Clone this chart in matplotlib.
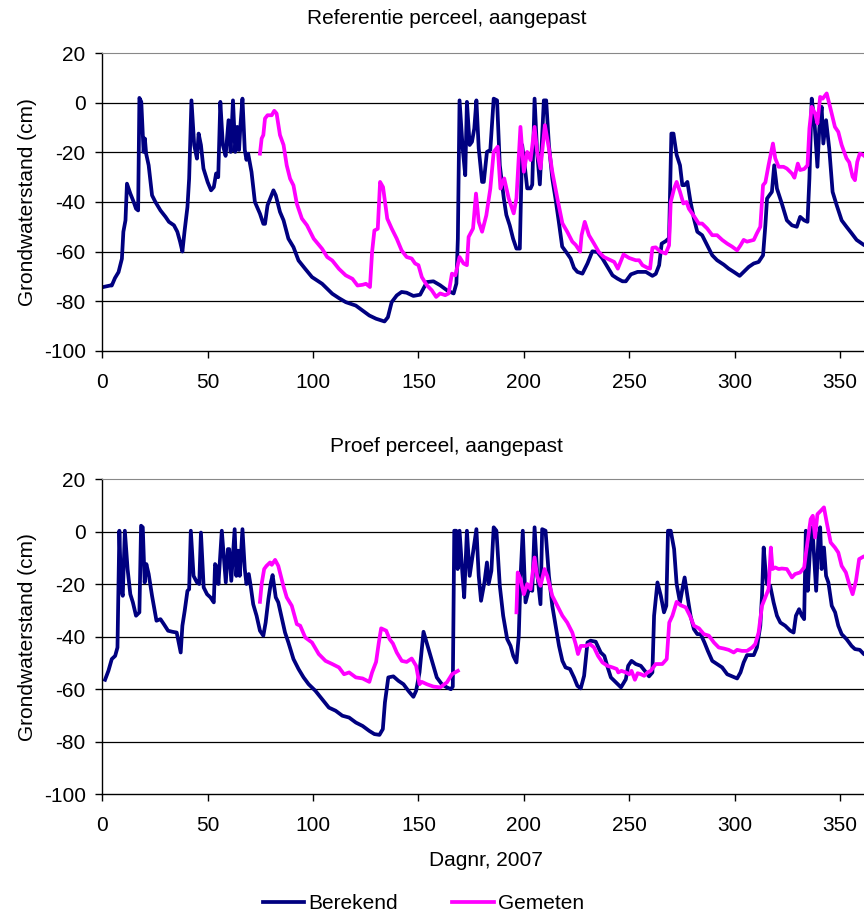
import numpy as np
import matplotlib
matplotlib.use("Agg")
import matplotlib.pyplot as plt

plt.rcParams["font.family"] = ["Liberation Sans", "DejaVu Sans"]
plt.rcParams["axes.unicode_minus"] = False  # gewoon "-" zoals in het origineel

# (dagnr, grondwaterstand in cm)
ref_berekend = [
    (0.5, -74.3), (3.7, -73.7), (4.5, -73.7), (6, -70.7), (7.7, -68.3), (9.3, -62.9), (10, -52), (11, -47.4),
    (11.7, -32.6), (13.3, -36.6), (14.9, -40), (16, -42.7), (17, -43.4), (17.6, 2), (18.5, 0.4), (19.6, -19.8),
    (20.2, -14.4), (20.8, -20.5), (22, -25.2), (23.6, -37.3), (25.2, -40), (27.6, -43.4), (30, -46), (31.6, -48),
    (34, -49.4), (35.6, -52), (36.9, -56), (38, -60), (39, -52), (40.4, -42), (41.2, -30.6), (42.3, 1),
    (43.6, -17), (44.9, -22.5), (45.7, -12.4), (46.8, -17), (48, -26.5), (50, -32), (51.6, -35.3), (52.9, -34),
    (54, -28.5), (55, -30), (56, 0.4), (57.2, -17), (58.5, -21.4), (59.9, -7), (60.9, -19.8), (62, 1),
    (63.1, -19.8), (64, -9.7), (64.9, -19), (65.5, -9.7), (66.5, 1.7), (67.6, -19), (68.4, -23), (69.2, -20.5),
    (70.8, -27.9), (72.4, -40), (74.8, -44.7), (76.4, -48.8), (77.2, -48.8), (78.4, -41.3), (81.2, -35.3),
    (82.3, -37.3), (84.3, -44), (86, -47.4), (88.3, -54.8), (90.7, -58.2), (93.1, -63.6), (96.3, -67),
    (99.5, -70.3), (104.3, -73), (109.1, -77), (112.3, -78.8), (115.5, -80.4), (120.3, -81.8), (123.5, -83.8),
    (126.7, -85.8), (129.9, -87.1), (133.9, -88.2), (135.5, -86.5), (137.3, -80.4), (139.7, -77.7), (142, -76.3),
    (144.4, -76.6), (147.6, -77.9), (150.8, -77.4), (154, -72.3), (157.1, -72), (160.3, -73.6), (163.5, -75.6),
    (166.7, -76.9), (168, -72.9), (168.7, -54.8), (169.5, 1), (171, -18.4), (172.2, -29.2), (173, 0.4),
    (174.3, -17), (175.4, -15.7), (176.5, -10.3), (177.5, 1), (178.6, -18.4), (180.2, -31.9), (181, -31.9),
    (182.5, -19.8), (184.1, -19), (185.7, 1.7), (187.3, 1), (188.6, -25.2), (190.5, -38.5), (191.7, -45.2),
    (193.3, -49.4), (194.9, -54.8), (196.5, -58.8), (198.1, -58.8), (199.2, -17), (200.4, -25.2), (201.6, -34.5),
    (203.2, -34.5), (204, -33), (205.1, 1.7), (206.3, -19.8), (207.6, -32.9), (209.5, 1), (210.6, 1),
    (211.9, -17), (213.5, -30.5), (215, -38.5), (216.6, -48), (218.2, -58), (220.6, -60.8), (222.2, -62.8),
    (223.8, -66.6), (225.4, -68.2), (227.8, -68.9), (230.2, -64.8), (232.5, -59.9), (234.9, -60.2),
    (237.3, -62.8), (239.7, -66.2), (242.1, -69.6), (244.4, -70.9), (246.8, -72), (248.4, -72), (250.8, -69.2),
    (254, -68.2), (257.9, -68.2), (261, -69.8), (262.6, -69), (264.2, -65.5), (265.4, -56.8), (267.3, -55.8),
    (268.9, -54.6), (270, -12.4), (271, -12.4), (272.5, -21), (274.1, -25.2), (275.2, -33.2), (276.3, -33.2),
    (277.6, -31.9), (279.1, -40), (280.7, -46.7), (282.3, -52), (284.6, -53.4), (287, -57.5), (289.4, -61.5),
    (291.7, -63.5), (294.9, -65.3), (297.2, -66.9), (299.6, -68.2), (302.4, -69.8), (304.3, -68.2),
    (306.7, -66.2), (309.1, -64.8), (311.4, -64.2), (313.5, -61.5), (314.6, -49.4), (315.4, -38.6),
    (317.7, -35.9), (318.8, -25.2), (320.1, -34.6), (322.4, -40.6), (324.8, -47.4), (327.2, -49.4),
    (329.5, -50), (331.1, -46), (333, -47.4), (334.6, -48), (335.5, -30.5), (336.6, 1.7), (337.9, -7.7),
    (339.3, -25.8), (340.2, -10.3), (341.3, -1.6), (342.1, -16.4), (343.4, -7), (344.9, -18.4), (346.5, -35.9),
    (348.4, -41.2), (350.8, -47.4), (353.1, -50), (355.5, -52.6), (357.9, -55.3), (361.3, -57.3), (365, -59),
]

ref_gemeten = [
    (74.8, -20.5), (75.6, -14.4), (76.4, -13), (77.2, -6.3), (78.4, -5), (80.4, -5), (81.6, -3.2), (82.7, -4.3),
    (84.3, -13), (86, -17), (87.5, -25.2), (89.1, -30.6), (90.7, -33.3), (92.3, -40.7), (94.7, -46.7),
    (97.1, -49.4), (100.3, -54.8), (104.3, -58.9), (106.7, -62.2), (109.1, -63.6), (112.3, -67), (115.5, -69.6),
    (118.7, -71), (121.1, -73.7), (123.5, -73.4), (125.1, -73), (127, -74.3), (128, -60.2), (129.1, -51.5),
    (130.7, -50.8), (131.8, -31.9), (133.2, -34), (135.2, -46.7), (137.3, -50.7), (139.7, -54.8), (142, -59.5),
    (144.4, -62.2), (146.8, -62.8), (148.4, -64.8), (150, -65.5), (151.6, -70.3), (154, -73.6), (156.3, -75.6),
    (158.4, -78.3), (160.3, -76.9), (162.7, -77.6), (164.3, -76.9), (165.9, -68.9), (167.5, -69.6),
    (169.5, -62.2), (171.4, -64.8), (173, -65.5), (173.8, -54.1), (175.9, -50.7), (177.3, -36.6), (178.6, -48),
    (180.2, -52), (182.2, -45.4), (184.1, -34.6), (185.7, -19.8), (187.6, -17.7), (188.9, -34.6), (190.7, -30.5),
    (192.8, -38.5), (195.2, -44.6), (196.5, -38.5), (198.4, -9.7), (200, -27.8), (201.6, -19.8), (203.2, -23.1),
    (205.1, -9.7), (206.3, -19.8), (207.9, -26.5), (210, -9), (211.9, -18.4), (213.5, -27.8), (215.9, -38.5),
    (218.3, -48.6), (220.6, -52), (223, -56), (224.6, -57.3), (226.7, -60), (227.4, -53.4), (228.9, -48),
    (230.9, -53.4), (233.3, -56.8), (235.6, -60.2), (238, -62.2), (241.2, -63.5), (242.9, -64.2), (244.6, -66.9),
    (247.3, -61.2), (250, -62.6), (253.1, -63.5), (254.7, -63.5), (256.3, -65.5), (258.7, -66.6), (259.9, -66.9),
    (261, -58.5), (262.6, -58.3), (264.6, -59.9), (267.3, -60.8), (268.9, -57.5), (269.7, -40), (271.3, -34.6),
    (272.5, -31.9), (274.1, -35.9), (275.7, -40.6), (277.2, -40), (278.3, -42.7), (281.5, -46.7), (283, -48.7),
    (284.6, -48.7), (287, -50.7), (289.4, -53.4), (291.7, -53.4), (294.1, -55.3), (296.5, -56.8), (298.8, -58),
    (301.2, -59.5), (302.8, -57.5), (304.3, -55.3), (305.9, -56), (309.1, -55.3), (310.6, -52.6), (312.2, -50),
    (313.5, -33.2), (314.6, -32.1), (316.1, -25.2), (318.2, -16.4), (319.3, -22.4), (320.9, -25.8),
    (323.2, -25.8), (324.8, -26.5), (327.2, -28.5), (328.4, -30.2), (330, -24.5), (331.1, -27.1), (333, -26.7),
    (334.6, -25.2), (335.5, -10.3), (336.6, -1.6), (338.2, -4.3), (339.3, -8.3), (340.6, 2.4), (341.8, 1.7),
    (343.7, 3.8), (345.3, -1.6), (347.6, -9.7), (349.2, -11.7), (350.8, -17), (353.1, -22.4), (354.4, -24),
    (356, -29.8), (357.1, -31.2), (358.2, -23.8), (359.4, -20.5), (361, -21), (365, -24),
]

proef_berekend = [
    (1.3, -56.4), (2.9, -53), (4.5, -48.5), (6.1, -47.3), (7.2, -44.1), (8.1, 0.4), (8.9, -21.9), (9.7, -24.4),
    (10.7, 0.4), (12, -14.2), (13.3, -23.8), (14.5, -26.9), (16, -32), (17.6, -30.7), (18.4, 2.3), (19.2, 1.7),
    (20.1, -19.3), (20.9, -12.3), (22, -16.1), (23.6, -24.4), (25.7, -33.9), (27.6, -33.3), (29.2, -35.2),
    (31.2, -37.7), (33.2, -38.1), (35.3, -38.4), (36.4, -42.8), (37.2, -46), (38, -35.8), (39.1, -30.1),
    (40.4, -22.5), (41.2, -21.9), (42, 0.4), (43.3, -16.8), (44.9, -19.3), (46, -19.9), (46.8, -0.3),
    (48.1, -21.2), (49.7, -23.8), (51.3, -25), (52.9, -26.9), (53.5, -12.3), (54.5, -13.6), (55.1, -19.9),
    (56.7, 0.4), (57.7, -9.8), (58.6, -19.3), (59.6, -6.6), (60.2, -6.6), (61.2, -18.7), (62.8, 1), (63.6, -16.8),
    (64.4, -7.2), (65.2, -16.8), (66.5, 1), (67.6, -14.2), (68.4, -19.9), (69.5, -16.1), (70.4, -20.6),
    (71.6, -27.6), (73.2, -32), (74.8, -37.7), (76.4, -39.6), (77.5, -34.6), (78.8, -25.7), (80, -19.3),
    (80.8, -16.5), (82.3, -25), (83.5, -26.9), (85.1, -32.7), (86.7, -38.4), (88.3, -42.2), (90.7, -48.5),
    (93.1, -52.3), (95.5, -55.5), (97.9, -58.1), (101.1, -60.6), (104.3, -63.8), (107.5, -67), (110.7, -68.2),
    (113.9, -70.1), (117.1, -70.8), (120.3, -72.7), (123.5, -74), (126.7, -75.9), (129.1, -77.1), (131.5, -77.4),
    (133.1, -75.2), (134.1, -65), (135.7, -55.5), (138.1, -55.1), (140.5, -56.8), (142.9, -58.1), (145.2, -60.6),
    (147.6, -62.9), (148.9, -60.6), (150.5, -53.6), (152.4, -38.1), (154.8, -44.7), (157.1, -51.1),
    (158.7, -55.5), (161.1, -58.1), (163.5, -59.3), (165.4, -60), (166.3, -59), (167, 0.4), (167.9, 0.4),
    (168.6, -14.2), (169.5, 0.4), (170.6, -13), (171.7, -25), (173, 0.4), (174.3, -16.8), (175.9, -7.9),
    (177.5, 1), (178.6, -16.8), (179.7, -26.3), (181.3, -19.3), (182.5, -11.7), (183.3, -19.9), (184.6, -14.9),
    (185.7, 1.7), (187, 0.4), (188.6, -20.6), (190.2, -32), (192.1, -40.9), (193.7, -43.5), (195, -47.3),
    (196.5, -49.8), (197.6, -39.6), (198.4, -18), (199.5, 0.4), (200.8, -26.9), (202.4, -21.9), (204, -22.5),
    (205.1, 1.7), (206.3, -15.5), (207.9, -27.6), (208.7, 1), (210.3, 0.4), (211.9, -16.8), (213.5, -28.2),
    (215.1, -35.8), (216.7, -43.5), (218.3, -49.2), (219.8, -51.7), (221.9, -52.3), (223.8, -55.5),
    (225.4, -58.7), (227, -59.7), (228.6, -54.9), (230.2, -42.2), (231.7, -41.5), (234.1, -41.9), (236.5, -46),
    (238.2, -47.3), (239.8, -51.7), (241.3, -55.5), (243.7, -57.4), (246.1, -59.3), (248.4, -56.2),
    (249.5, -51.1), (251.1, -49.2), (253.1, -50.4), (255.5, -51.1), (257.4, -53), (259.4, -55.1), (261, -53.6),
    (261.8, -32), (263.4, -19.3), (265, -24.4), (266.5, -30.7), (267.6, -28.2), (268.4, 0.4), (269.7, 0.4),
    (271.3, -6.6), (272.5, -19.9), (274.1, -26.9), (275.2, -21.9), (276.3, -17.4), (277.6, -24.4), (279.1, -32),
    (280.7, -37.1), (282.3, -39), (283.9, -39), (285.7, -42.2), (287.3, -45.4), (289.4, -49.2), (291.7, -50.4),
    (294.1, -51.7), (296.5, -54.3), (298.8, -55.1), (301.2, -55.9), (302.8, -53.6), (304.3, -49.8),
    (305.9, -47), (309.1, -47), (310.6, -44.1), (312.2, -35.8), (313, -24.4), (313.8, -6), (314.6, -14.2),
    (315.4, -19.9), (316.9, -20.6), (318.5, -26.9), (320.1, -32), (321.7, -34.6), (324, -35.8), (326.4, -37.7),
    (328, -38.4), (329.1, -32), (330.6, -29.5), (331.9, -32), (333, -33.3), (333.8, 0.4), (334.7, -22.5),
    (335.8, -6.6), (336.9, 1.7), (337.7, -9.1), (338.7, -22.5), (339.8, -1.5), (340.6, 1.7), (341.3, -14.2),
    (342.4, -6), (343.4, -16.8), (344.5, -19.3), (346.1, -28.2), (347.7, -30.7), (349.2, -35.8), (350.8, -39),
    (353.1, -40.9), (355.5, -43.5), (357.1, -44.7), (359.4, -45), (361.3, -46.6), (365, -48),
]

# gat in de metingen tussen dag ~169 en ~196
proef_gemeten = [
    (74.8, -26.7), (75.6, -19.9), (76.8, -14.2), (77.9, -13), (79.6, -11.7), (80.4, -12.6), (82, -10.7),
    (83.5, -13), (85.9, -20.6), (87.5, -25), (89.9, -28.2), (92.3, -35.2), (93.9, -35.8), (96.3, -40.3),
    (99.5, -42.2), (102.7, -46.6), (105.9, -49.2), (109.1, -50.4), (112.3, -51.7), (114.7, -54.3),
    (117.1, -53.6), (120.3, -55.5), (123.5, -55.9), (126.7, -57.2), (128, -53.6), (129.9, -49.6), (131.2, -42.2),
    (132.3, -36.8), (134.7, -37.7), (136.3, -40.9), (137.9, -42.6), (139.7, -46), (142.1, -49.2), (144.4, -49.6),
    (146.8, -48.3), (148.9, -51.1), (150.5, -58.1), (151.6, -57.2), (154, -58.1), (157.1, -59), (160.3, -59.3),
    (163.5, -57.4), (165.9, -54.3), (168.7, -53),
    (183, np.nan),
    (196.5, -30.7), (197.1, -15.5), (198.4, -18), (200, -23.8), (201.6, -19.9), (203.2, -21.9), (205.1, -9.8),
    (206.3, -16.8), (207.9, -20.6), (209.8, -14.2), (211.1, -16.8), (213.5, -24.4), (215.9, -28.2), (218.3, -32),
    (220.6, -34.6), (223, -38.4), (224.6, -42.8), (225.7, -46.6), (227, -43.5), (229.4, -43.5), (231.4, -42.8),
    (233.3, -44.1), (235.2, -47.3), (237.3, -49.8), (239.7, -51.1), (242.1, -51.7), (244.1, -52.3),
    (244.8, -53.6), (246.3, -53), (248.4, -53.6), (250, -54.3), (251.1, -53), (252.7, -56.4), (254, -53.9),
    (255.6, -54.3), (257.1, -54.9), (258.7, -53.6), (260.2, -53), (262.6, -50.4), (265.7, -50.4), (267.8, -48.5),
    (269, -34.6), (270.5, -32), (272.5, -26.7), (274.4, -28), (276.8, -28.8), (278.8, -32), (280.7, -35.8),
    (283.1, -36.8), (285.4, -39), (287.8, -39.6), (290.2, -42.2), (292.5, -44.1), (294.9, -44.5), (297.2, -45),
    (299.6, -46), (301.2, -45), (303.5, -45.4), (305.9, -45.4), (308.3, -44.1), (309.8, -42.8), (311.4, -38.4),
    (313, -28.2), (314.6, -25), (316.1, -21.9), (317.2, -6), (318, -14.2), (319.3, -13.6), (320.9, -14.2),
    (322.4, -14), (324.8, -14.2), (327.2, -17.4), (328.7, -16.1), (331.1, -15.5), (333, -13.6), (333.9, -7.9),
    (335, -1.5), (336.1, 4.8), (337.1, 6.1), (338.2, -2.2), (339.3, 6.7), (340.9, 8), (342.4, 9.3), (343.7, 3.6),
    (345.6, -4.1), (347.6, -6), (349.2, -7.9), (350.8, -13), (352.8, -15.5), (354.4, -20), (356, -23.8),
    (357.6, -18.7), (359.1, -10.4), (361.3, -9.4), (365, -9),
]

titels = ["Referentie perceel, aangepast", "Proef perceel, aangepast"]
x_ticks = [0, 50, 100, 150, 200, 250, 300, 350]
y_ticks = [20, 0, -20, -40, -60, -80, -100]

fs = 15
fig = plt.figure(figsize=(8.64, 9.14), dpi=100)
ax1 = fig.add_axes([0.1184, 0.6163, 1 - 0.1184, 0.9417 - 0.6163])
ax2 = fig.add_axes([0.1184, 0.1311, 1 - 0.1184, 0.4756 - 0.1311])

series = [(ax1, ref_berekend, ref_gemeten), (ax2, proef_berekend, proef_gemeten)]
for ax, ber, gem in series:
    for yv in y_ticks[1:-1]:
        ax.axhline(yv, color="black", lw=0.9, zorder=1)
    d, v = np.array(ber).T
    ax.plot(d, v, color="#000080", lw=2.7, label="Berekend", zorder=2, solid_joinstyle="round")
    d, v = np.array(gem).T
    ax.plot(d, v, color="#FF00FF", lw=2.7, label="Gemeten", zorder=3, solid_joinstyle="round")
    ax.set_xlim(0, 361.4)
    ax.set_ylim(-100, 20)
    ax.set_xticks(x_ticks)
    ax.set_yticks(y_ticks)
    ax.set_yticklabels([str(t) for t in y_ticks])
    ax.tick_params(axis="both", direction="out", length=5, width=1, labelsize=fs, colors="black")
    ax.tick_params(axis="x", pad=11)
    ax.tick_params(axis="y", pad=7)
    ax.spines["right"].set_visible(False)
    ax.spines["top"].set_color("#888888")
    ax.spines["left"].set_linewidth(1)
    ax.spines["bottom"].set_linewidth(1)
    ax.set_ylabel("Grondwaterstand (cm)", fontsize=fs, labelpad=5)

fig.text(0.517, 0.980, titels[0], ha="center", va="center", fontsize=fs)
fig.text(0.517, 0.511, titels[1], ha="center", va="center", fontsize=fs)
fig.text(0.563, 0.059, "Dagnr, 2007", ha="center", va="center", fontsize=fs)

handles, labels = ax2.get_legend_handles_labels()
fig.legend(handles, labels, loc="center", bbox_to_anchor=(0.49, 0.011), ncol=2, frameon=False,
           fontsize=fs, handlelength=2.0, handletextpad=0.2, columnspacing=2.6)

fig.savefig("out.png", dpi=100)
